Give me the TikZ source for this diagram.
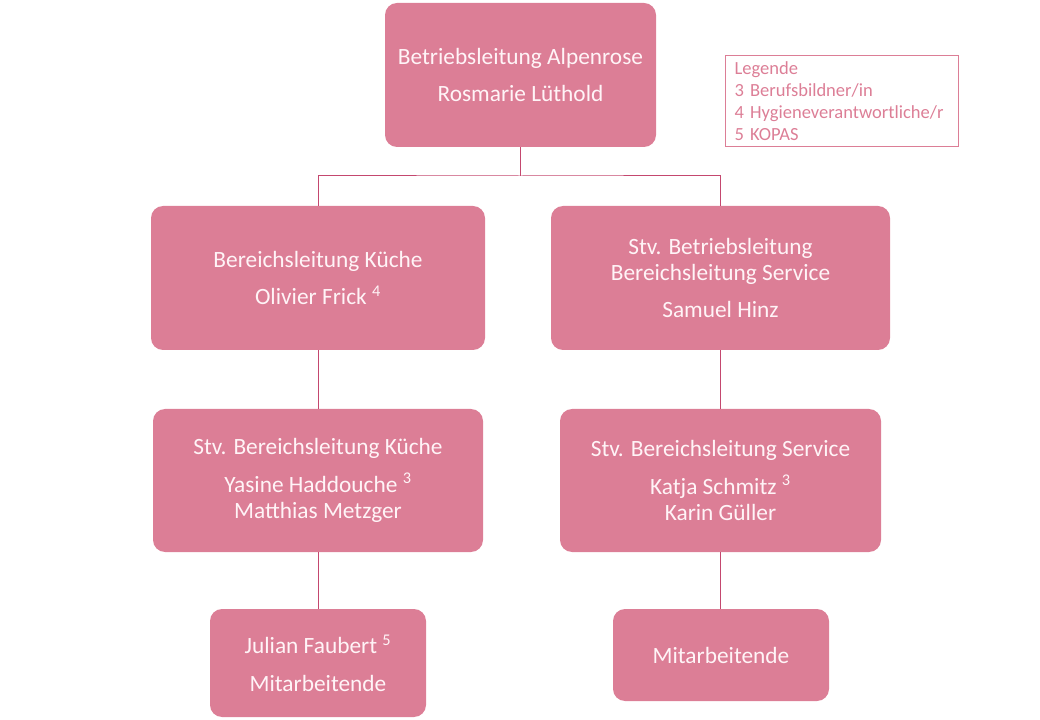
\documentclass[tikz,border=0pt]{standalone}
\usepackage{fontspec}
\setmainfont{Carlito}
\definecolor{rosefill}{HTML}{DC7E96}
\definecolor{roseline}{HTML}{C4486F}
\definecolor{rosetext}{HTML}{FFF4F7}
\newdimen\px \px=0.75pt

\begin{document}
\begin{tikzpicture}[x=0.75pt,y=-0.75pt,
  orgbox/.style={fill=rosefill,rounded corners=9pt,text=rosetext,align=center,
    font=\fontsize{17.5}{19.5}\selectfont,inner sep=0pt},
  link/.style={roseline,line width=0.75pt},
  legendbox/.style={draw=rosefill,line width=0.8pt,text=rosefill,align=left,
    font=\fontsize{13.9}{16.5}\selectfont,inner xsep=9\px,inner ysep=0pt}]

  \useasboundingbox (0,0) rectangle (1040,720);

  \draw (520.5,75) node[orgbox,minimum width=271\px,minimum height=144\px] (top)
    {Betriebsleitung Alpenrose\\[8.5pt]Rosmarie Lüthold};
\draw (318,278) node[orgbox,minimum width=334\px,minimum height=144\px] (kueche)
    {Bereichsleitung Küche\\[8.5pt]Olivier Frick \textsuperscript{4}};
\draw (720.5,278) node[orgbox,minimum width=339\px,minimum height=144\px] (service)
    {Stv. Betriebsleitung\\Bereichsleitung Service\\[8.5pt]Samuel Hinz};
\draw (318,480.5) node[orgbox,minimum width=330\px,minimum height=143\px] (stvkueche)
    {Stv. Bereichsleitung Küche\\[8.5pt]Yasine Haddouche \textsuperscript{3}\\Matthias Metzger};
\draw (720.5,480.5) node[orgbox,minimum width=321\px,minimum height=143\px] (stvservice)
    {Stv. Bereichsleitung Service\\[8.5pt]Katja Schmitz \textsuperscript{3}\\Karin Güller};
\draw (318,663) node[orgbox,minimum width=216\px,minimum height=108\px] (mak)
    {Julian Faubert \textsuperscript{5}\\[8.5pt]Mitarbeitende};
\draw (721,655) node[orgbox,minimum width=216\px,minimum height=92\px] (mas)
    {Mitarbeitende};

  \draw (725,55) node[legendbox,anchor=north west,text width=215\px,minimum height=91\px] (legende)
    {Legende\\3 Berufsbildner/in\\4 Hygieneverantwortliche/r\\5 KOPAS};

  \coordinate (split) at (520.5,176);
  \draw[link] (top.south) -- (split);
  \draw[link] (kueche.north) |- (split) -| (service.north);
  \draw[link] (kueche) -- (stvkueche);
  \draw[link] (stvkueche) -- (mak);
  \draw[link] (service) -- (stvservice);
  \draw[link] (stvservice.south) -- (stvservice.south |- mas.north);

\end{tikzpicture}
\end{document}
